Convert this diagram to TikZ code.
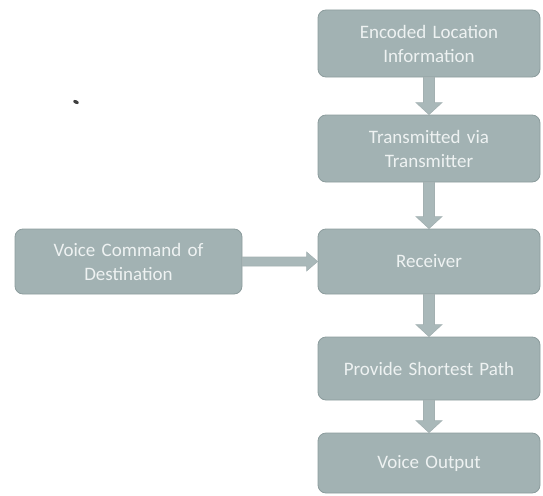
\documentclass[tikz,border=0pt]{standalone}
\usepackage{fontspec}
\setmainfont{Carlito}
\usetikzlibrary{calc}
\definecolor{boxfill}{HTML}{A2B2B3}
\definecolor{boxedge}{HTML}{8C9C9D}
\definecolor{arrfill}{HTML}{A9B8B9}
\definecolor{txtcol}{HTML}{EEF2F2}
\tikzset{
  flowbox/.style={draw=boxedge, line width=0.8pt, fill=boxfill, rounded corners=8pt,
    minimum width=222pt, text width=210pt, align=center, text=txtcol,
    font=\fontsize{19}{24}\selectfont, inner sep=0pt},
  blockarr/.style={draw=boxedge!80, line width=0.6pt, fill=arrfill, line join=miter}
}
\newcommand\vblockarr[2]{%
  \draw[blockarr] ($(#1.south)+(-5.5,0)$) -- ($(#2.north)+(-5.5,-12)$) -- ($(#2.north)+(-13,-12)$)
    -- (#2.north) -- ($(#2.north)+(13,-12)$) -- ($(#2.north)+(5.5,-12)$) -- ($(#1.south)+(5.5,0)$) -- cycle;}
\begin{document}
\begin{tikzpicture}[x=1pt,y=-1pt]
\useasboundingbox (0,0) rectangle (543,495);
\node[flowbox, minimum height=67pt] (enc) at (429,43.5) {Encoded Location\\Information};
\node[flowbox, minimum height=67pt] (tx) at (429,148.5) {Transmitted via\\Transmitter};
\node[flowbox, minimum height=65pt] (rec) at (429,261.5) {Receiver};
\node[flowbox, minimum height=65pt, minimum width=227pt] (vc) at (128.5,261.5) {Voice Command of\\Destination};
\node[flowbox, minimum height=63pt] (sp) at (429,368.5) {Provide Shortest Path};
\node[flowbox, minimum height=60pt] (out) at (429,463) {Voice Output};
\vblockarr{enc}{tx}
\vblockarr{tx}{rec}
\vblockarr{rec}{sp}
\vblockarr{sp}{out}
\draw[blockarr] ($(vc.east)+(0,-4.5)$) -- ($(rec.west)+(-11,-4.5)$) -- ($(rec.west)+(-11,-9.5)$)
  -- (rec.west) -- ($(rec.west)+(-11,9.5)$) -- ($(rec.west)+(-11,4.5)$) -- ($(vc.east)+(0,4.5)$) -- cycle;
\fill[black!75, rotate around={-25:(76,102)}] (76,102) ellipse (3pt and 1.8pt);
\end{tikzpicture}
\end{document}
